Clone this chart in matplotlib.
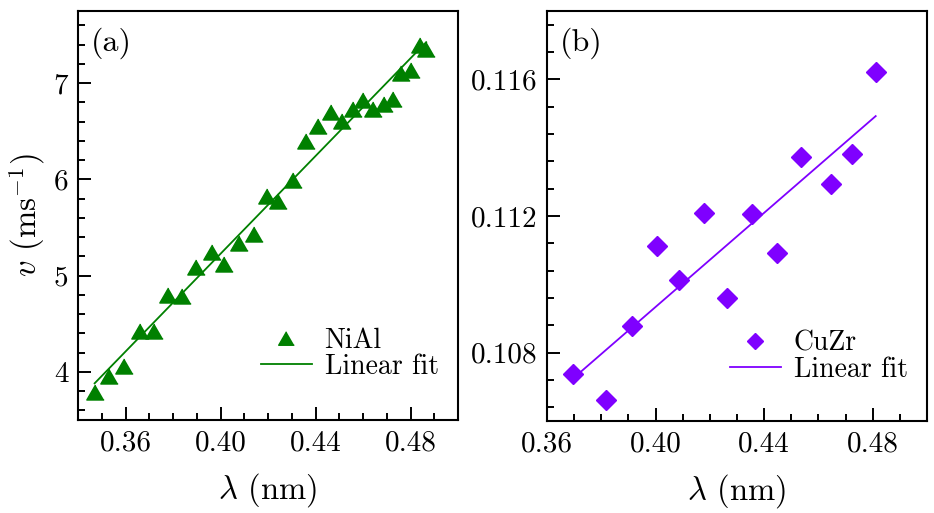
import numpy as np
import matplotlib
matplotlib.use("Agg")
import matplotlib.pyplot as plt
from matplotlib.ticker import MultipleLocator, FormatStrFormatter

plt.rcParams['font.family'] = 'serif'
plt.rcParams['font.serif'] = ['cmr10', 'DejaVu Serif']
plt.rcParams['mathtext.fontset'] = 'cm'
plt.rcParams['axes.formatter.use_mathtext'] = True
plt.rcParams['axes.unicode_minus'] = False

# NiAl data
nial_lambda = [0.347, 0.353, 0.3593, 0.3659, 0.3719, 0.3779, 0.3838, 0.3898,
               0.3964, 0.4016, 0.4076, 0.4139, 0.4195, 0.4244, 0.4304, 0.4359,
               0.4412, 0.4464, 0.451, 0.4556, 0.460, 0.4643, 0.4689, 0.4727,
               0.4761, 0.4804, 0.4838, 0.4866]
nial_v = [3.79, 3.96, 4.06, 4.42, 4.43, 4.80, 4.79, 5.09,
          5.25, 5.12, 5.34, 5.43, 5.83, 5.78, 5.99, 6.40,
          6.56, 6.70, 6.61, 6.73, 6.82, 6.73, 6.78, 6.84,
          7.11, 7.14, 7.40, 7.35]

# CuZr data
cuzr_lambda = [0.3695, 0.3816, 0.3912, 0.4004, 0.4086, 0.4178, 0.4264,
               0.4357, 0.4449, 0.4537, 0.4648, 0.4725, 0.4811]
cuzr_v = [0.10739, 0.10661, 0.10877, 0.11112, 0.11013, 0.11208, 0.10960,
          0.11206, 0.11093, 0.11373, 0.11295, 0.11380, 0.11621]

green = '#008000'
purple = '#7F00FF'
fs_tick = 21
fs_lab = 23.5
fs_leg = 20
fs_tag = 23

fig = plt.figure(figsize=(9.34, 5.13), dpi=100)
W, H = 934, 513
ax1 = fig.add_axes([78 / W, (H - 420) / H, 380 / W, 409 / H])
ax2 = fig.add_axes([547 / W, (H - 421) / H, 380 / W, 410 / H])

tri = [(0, 0.866), (-1, -0.866), (1, -0.866)]

# Panel (a)
x1 = np.array(nial_lambda); y1 = np.array(nial_v)
p1 = np.polyfit(x1, y1, 1)
xf1 = np.array([x1.min(), x1.max()])
ax1.plot(x1, y1, linestyle='none', marker=tri, markersize=12.5, color=green, label='NiAl')
ax1.plot(xf1, np.polyval(p1, xf1), color=green, lw=1.3, label='Linear fit')
ax1.set_xlim(0.34, 0.50)
ax1.set_ylim(3.5, 7.75)
ax1.xaxis.set_major_locator(MultipleLocator(0.04))
ax1.xaxis.set_minor_locator(MultipleLocator(0.01))
ax1.yaxis.set_major_locator(MultipleLocator(1))
ax1.yaxis.set_minor_locator(MultipleLocator(0.2))
ax1.xaxis.set_major_formatter(FormatStrFormatter('%.2f'))
ax1.yaxis.set_major_formatter(FormatStrFormatter('%d'))
ax1.set_xlabel(r'$\lambda$ (nm)', fontsize=fs_lab, labelpad=11)
ax1.set_ylabel(r'$v$ (ms$^{-1}$)', fontsize=fs_lab, labelpad=5)
ax1.text(0.035, 0.96, '(a)', transform=ax1.transAxes, fontsize=fs_tag, ha='left', va='top')
ax1.legend(loc='lower right', bbox_to_anchor=(1.0, 0.05), frameon=False, fontsize=fs_leg,
           handlelength=1.85, handletextpad=0.45, labelspacing=0.0, borderaxespad=0.3,
           markerscale=0.9)

# Panel (b)
x2 = np.array(cuzr_lambda); y2 = np.array(cuzr_v)
p2 = np.polyfit(x2, y2, 1)
xf2 = np.array([x2.min(), x2.max()])
ax2.plot(x2, y2, linestyle='none', marker='D', markersize=10, color=purple, label='CuZr')
ax2.plot(xf2, np.polyval(p2, xf2), color=purple, lw=1.3, label='Linear fit')
ax2.set_xlim(0.36, 0.50)
ax2.set_ylim(0.106, 0.118)
ax2.xaxis.set_major_locator(MultipleLocator(0.04))
ax2.xaxis.set_minor_locator(MultipleLocator(0.01))
ax2.yaxis.set_major_locator(MultipleLocator(0.004))
ax2.yaxis.set_minor_locator(MultipleLocator(0.0008))
ax2.xaxis.set_major_formatter(FormatStrFormatter('%.2f'))
ax2.yaxis.set_major_formatter(FormatStrFormatter('%.3f'))
ax2.set_xlabel(r'$\lambda$ (nm)', fontsize=fs_lab, labelpad=11)
ax2.text(0.035, 0.96, '(b)', transform=ax2.transAxes, fontsize=fs_tag, ha='left', va='top')
ax2.legend(loc='lower right', bbox_to_anchor=(1.0, 0.045), frameon=False, fontsize=fs_leg,
           handlelength=1.85, handletextpad=0.45, labelspacing=0.0, borderaxespad=0.3,
           markerscale=0.8)

for ax in (ax1, ax2):
    for s in ax.spines.values():
        s.set_linewidth(1.5)
    ax.tick_params(which='both', direction='in', top=False, right=False,
                   labelsize=fs_tick, width=1.4, pad=7)
    ax.tick_params(which='major', length=9.5)
    ax.tick_params(which='minor', length=5)

fig.savefig('out.png', dpi=100)
